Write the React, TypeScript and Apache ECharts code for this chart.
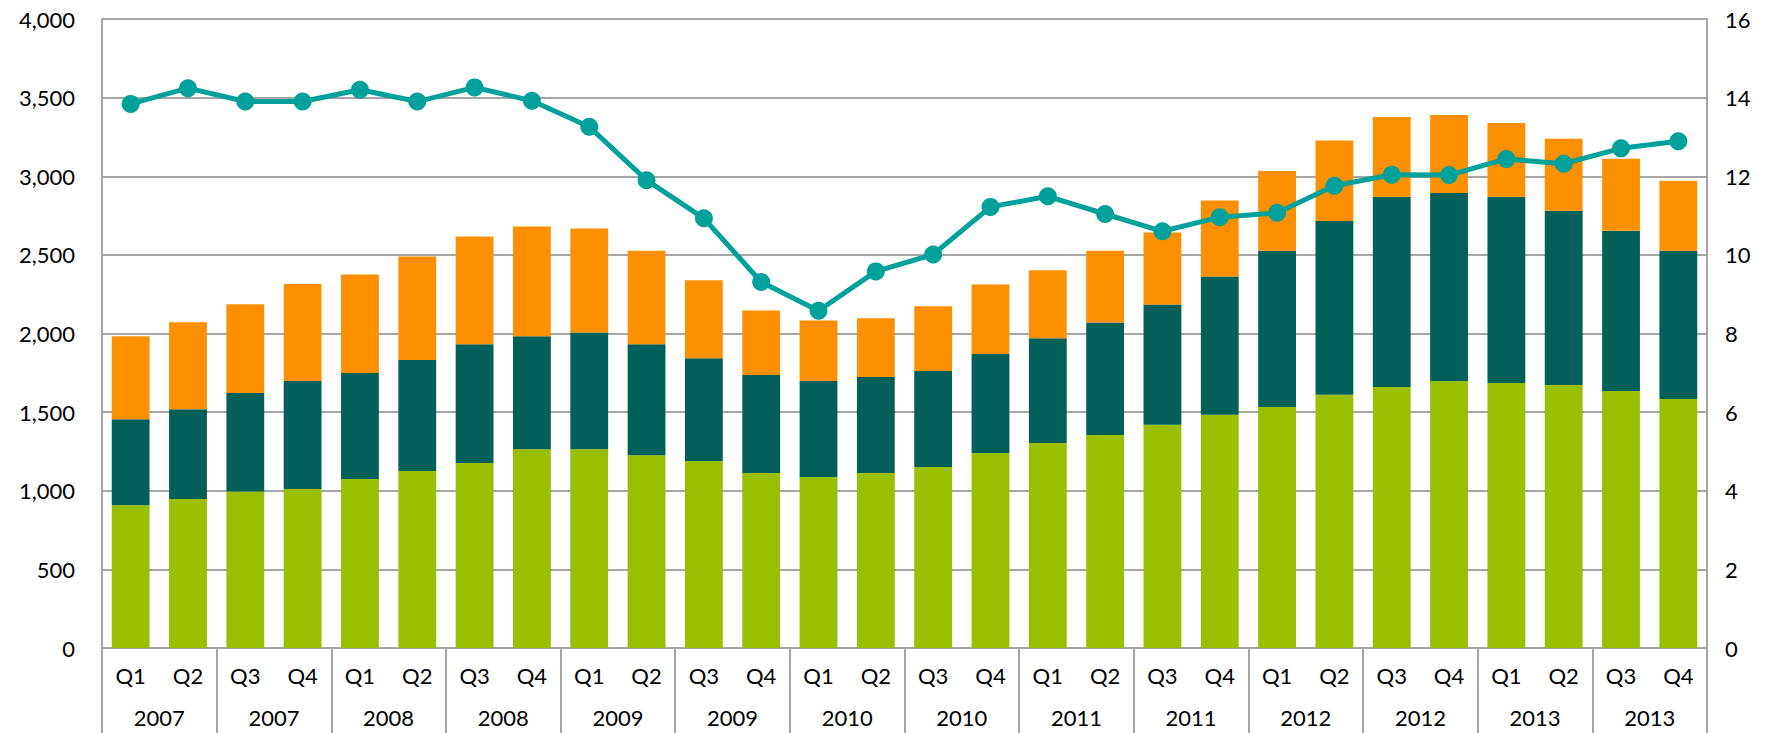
import React, { useEffect, useRef } from "react";
import * as echarts from "echarts";

const quarters = ["Q1","Q2","Q3","Q4","Q1","Q2","Q3","Q4","Q1","Q2","Q3","Q4","Q1","Q2","Q3","Q4","Q1","Q2","Q3","Q4","Q1","Q2","Q3","Q4","Q1","Q2","Q3","Q4"];
const yearLabels = ["2007","2007","2008","2008","2009","2009","2010","2010","2011","2011","2012","2012","2013","2013"];

const greenValues = [908, 947, 996, 1011, 1074, 1126, 1177, 1264, 1264, 1226, 1189, 1113, 1087, 1113, 1151, 1240, 1304, 1355, 1419, 1483, 1532, 1611, 1660, 1698, 1685, 1672, 1634, 1583];
const tealValues = [547, 572, 625, 687, 675, 705, 755, 719, 742, 706, 654, 623, 611, 610, 611, 629, 666, 715, 765, 879, 995, 1105, 1209, 1196, 1184, 1108, 1019, 944];
const orangeValues = [528, 553, 565, 616, 626, 658, 685, 697, 661, 595, 496, 410, 385, 374, 412, 442, 433, 457, 458, 483, 507, 511, 508, 496, 470, 459, 459, 445];
const lineValues = [13.84, 14.24, 13.9, 13.9, 14.2, 13.9, 14.26, 13.92, 13.26, 11.9, 10.93, 9.31, 8.58, 9.58, 10.01, 11.22, 11.49, 11.04, 10.6, 10.96, 11.07, 11.76, 12.04, 12.03, 12.44, 12.32, 12.71, 12.89];

const leftTicks = { min: 0, max: 4000, interval: 500 };
const rightTicks = { min: 0, max: 16, interval: 2 };

const FONT = "Lato";
const GRID_COLOR = "#a6a6a6";

export default function App() {
  const ref = useRef<HTMLDivElement>(null);
  useEffect(() => {
    document.body.style.margin = "0";
    const chart = echarts.init(ref.current!, null, { renderer: "svg" });
    const textStyle = { color: "#000", fontFamily: FONT, fontSize: 22 };
    chart.setOption({
      animation: false,
      grid: { left: 102, right: 70, top: 19, bottom: 85, containLabel: false },
      xAxis: [
        {
          type: "category",
          data: quarters,
          position: "bottom",
          axisLine: { show: true, lineStyle: { color: GRID_COLOR, width: 2 } },
          axisTick: { show: false },
          axisLabel: { ...textStyle, margin: 16, interval: 0 },
        },
        {
          type: "category",
          data: yearLabels,
          position: "bottom",
          axisLine: { show: false },
          axisTick: { show: true, length: 90, lineStyle: { color: GRID_COLOR, width: 2 } },
          axisLabel: { ...textStyle, margin: 58, interval: 0 },
        },
      ],
      yAxis: [
        {
          type: "value",
          ...leftTicks,
          axisLine: { show: true, lineStyle: { color: GRID_COLOR, width: 2 } },
          axisTick: { show: false },
          splitLine: { show: true, lineStyle: { color: GRID_COLOR, width: 2 } },
          axisLabel: {
            ...textStyle,
            margin: 27,
            formatter: (v: number) => v.toLocaleString("en-US"),
          },
        },
        {
          type: "value",
          ...rightTicks,
          position: "right",
          axisLine: { show: true, lineStyle: { color: GRID_COLOR, width: 2 } },
          axisTick: { show: false },
          splitLine: { show: false },
          axisLabel: { ...textStyle, margin: 18 },
        },
      ],
      series: [
        {
          type: "bar",
          stack: "total",
          data: greenValues,
          barWidth: "66%",
          itemStyle: { color: "#99bf00" },
        },
        {
          type: "bar",
          stack: "total",
          data: tealValues,
          barWidth: "66%",
          itemStyle: { color: "#036058" },
        },
        {
          type: "bar",
          stack: "total",
          data: orangeValues,
          barWidth: "66%",
          itemStyle: { color: "#fc9000" },
        },
        {
          type: "line",
          yAxisIndex: 1,
          data: lineValues,
          symbol: "circle",
          symbolSize: 18,
          lineStyle: { color: "#00a19b", width: 5 },
          itemStyle: { color: "#00a19b" },
          z: 5,
        },
      ],
    });
    return () => chart.dispose();
  }, []);
  return <div ref={ref} style={{ width: 1777, height: 733 }} />;
}
